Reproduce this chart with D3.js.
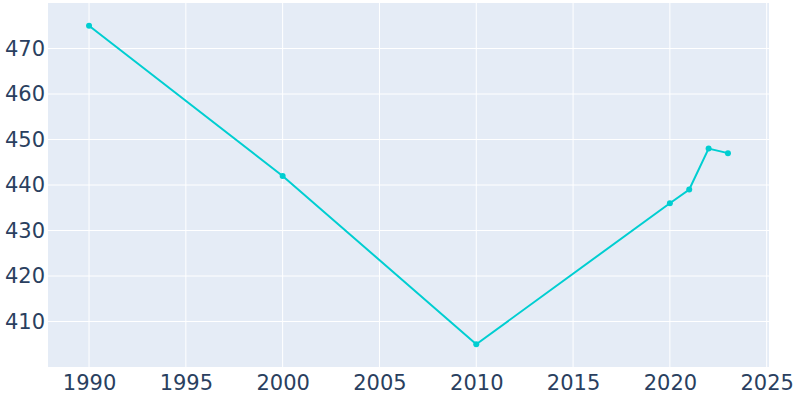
<!DOCTYPE html>
<html>
<head>
<meta charset="utf-8">
<script src="https://cdn.jsdelivr.net/npm/d3@7"></script>
<style>
  body { margin: 0; background: #fff; }
  svg text { font-family: "DejaVu Sans", sans-serif; }
</style>
</head>
<body>
<script>
// Data
const years = [1990, 2000, 2010, 2020, 2021, 2022, 2023];
const population = [475, 442, 405, 436, 439, 448, 447];
const xTicks = [1990, 1995, 2000, 2005, 2010, 2015, 2020, 2025];
const yTicks = [410, 420, 430, 440, 450, 460, 470];

const w = 800;
const h = 400;
const margin = { top: 3, right: 31, bottom: 33, left: 48 };
const lineColor = "#00ced1";
const textColor = "#2a3f5f";

const svg = d3.select('body')
  .append('svg')
  .attr('width', w)
  .attr('height', h);

const xScale = d3.scaleLinear()
  .domain([1987.88, 2025.12])
  .range([margin.left, w - margin.right]);

const yScale = d3.scaleLinear()
  .domain([400, 480])
  .range([h - margin.bottom, margin.top]);

// Plot background
svg.append('rect')
  .attr('x', margin.left)
  .attr('y', margin.top)
  .attr('width', w - margin.left - margin.right)
  .attr('height', h - margin.top - margin.bottom)
  .attr('fill', '#e5ecf6');

// Grid lines
svg.append('g')
  .selectAll('line')
  .data(xTicks)
  .enter()
  .append('line')
  .attr('x1', (d) => xScale(d))
  .attr('x2', (d) => xScale(d))
  .attr('y1', margin.top)
  .attr('y2', h - margin.bottom)
  .attr('stroke', '#fff')
  .attr('stroke-width', 1);

svg.append('g')
  .selectAll('line')
  .data(yTicks)
  .enter()
  .append('line')
  .attr('x1', margin.left)
  .attr('x2', w - margin.right)
  .attr('y1', (d) => yScale(d))
  .attr('y2', (d) => yScale(d))
  .attr('stroke', '#fff')
  .attr('stroke-width', 1);

// Axes (labels only)
const xAxis = d3.axisBottom(xScale)
  .tickValues(xTicks)
  .tickFormat(d3.format('d'))
  .tickSize(0)
  .tickPadding(8);

const yAxis = d3.axisLeft(yScale)
  .tickValues(yTicks)
  .tickSize(0)
  .tickPadding(3);

const gx = svg.append('g')
  .attr('transform', 'translate(0,' + (h - margin.bottom) + ')')
  .call(xAxis);

const gy = svg.append('g')
  .attr('transform', 'translate(' + margin.left + ',0)')
  .call(yAxis);

[gx, gy].forEach((g) => {
  g.select('.domain').remove();
  g.selectAll('text')
    .attr('fill', textColor)
    .style('font-size', '21px');
});

// Line and markers
const line = d3.line()
  .x((d, i) => xScale(years[i]))
  .y((d) => yScale(d));

svg.append('path')
  .datum(population)
  .attr('d', line)
  .attr('fill', 'none')
  .attr('stroke', lineColor)
  .attr('stroke-width', 2);

svg.append('g')
  .selectAll('circle')
  .data(population)
  .enter()
  .append('circle')
  .attr('cx', (d, i) => xScale(years[i]))
  .attr('cy', (d) => yScale(d))
  .attr('r', 3)
  .attr('fill', lineColor);
</script>
</body>
</html>
